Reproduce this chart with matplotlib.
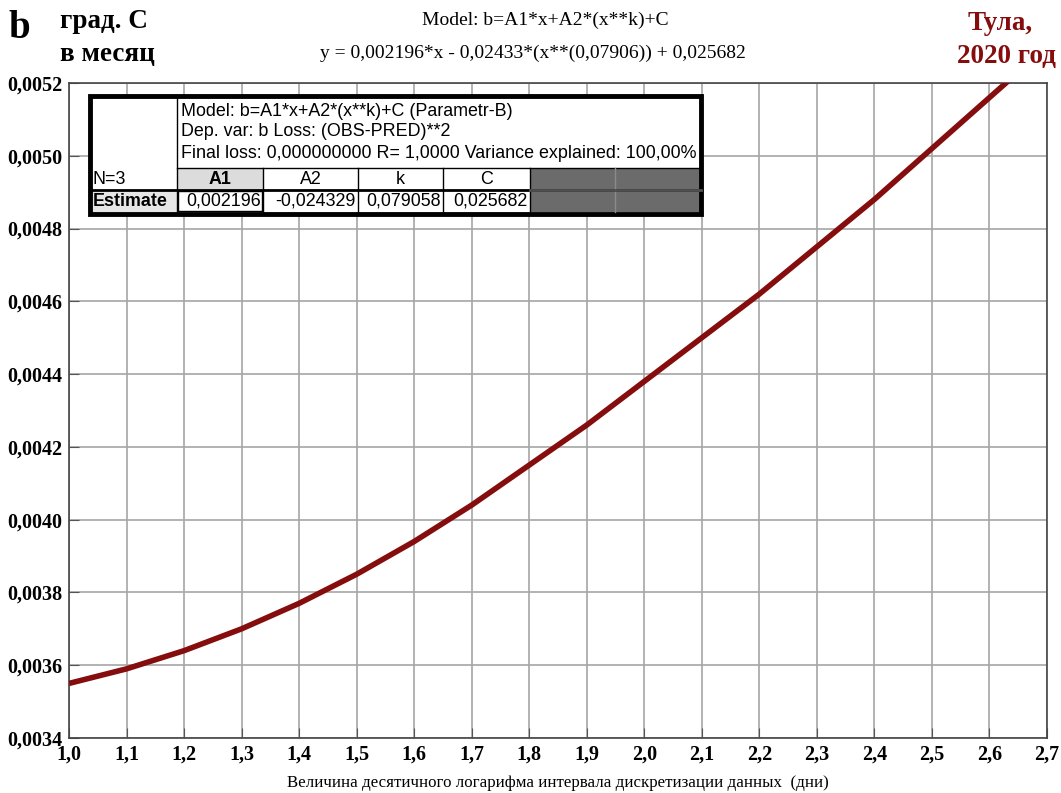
import numpy as np
import matplotlib
matplotlib.use("Agg")
import matplotlib.pyplot as plt
from matplotlib.patches import Rectangle
from matplotlib.ticker import MultipleLocator, FuncFormatter

# data
x_vals = [1.0, 1.1, 1.2, 1.3, 1.4, 1.5, 1.6, 1.7, 1.8, 1.9,
          2.0, 2.1, 2.2, 2.3, 2.4, 2.5, 2.6, 2.7]
b_vals = [0.00355, 0.00359, 0.00364, 0.00370, 0.00377, 0.00385,
          0.00394, 0.00404, 0.00415, 0.00426, 0.00438, 0.00450,
          0.00462, 0.00475, 0.00488, 0.00502, 0.00516, 0.00530]

param_names = ["A1", "A2", "k", "C"]
param_estimates = ["0,002196", "-0,024329", "0,079058", "0,025682"]
table_lines = ["Model: b=A1*x+A2*(x**k)+C (Parametr-B)",
               "Dep. var: b Loss: (OBS-PRED)**2",
               "Final loss: 0,000000000 R= 1,0000 Variance explained: 100,00%"]

SERIF = ["Liberation Serif", "DejaVu Serif"]
SANS = ["Liberation Sans", "DejaVu Sans"]
RED = "#850d0d"

W, H = 1061, 793
fig = plt.figure(figsize=(W / 100, H / 100), dpi=100)

# main plot
ax = fig.add_axes([69 / W, 1 - 738 / H, (1047 - 69) / W, (738 - 83) / H])
ax.plot(x_vals, b_vals, color=RED, lw=4, solid_capstyle="butt", zorder=3)
ax.set_xlim(1.0, 2.7)
ax.set_ylim(0.0034, 0.0052)
ax.xaxis.set_major_locator(MultipleLocator(0.1))
ax.yaxis.set_major_locator(MultipleLocator(0.0002))
ax.xaxis.set_major_formatter(FuncFormatter(lambda v, p: f"{v:.1f}".replace(".", ",")))
ax.yaxis.set_major_formatter(FuncFormatter(lambda v, p: f"{v:.4f}".replace(".", ",")))
ax.grid(True, color="#a6a6a6", lw=1.2)
ax.set_axisbelow(True)
for s in ax.spines.values():
    s.set_color("#444444")
    s.set_linewidth(1.2)
ax.tick_params(direction="in", length=7, color="#555555", pad=5)
for lab in ax.get_xticklabels() + ax.get_yticklabels():
    lab.set_family(SERIF)
    lab.set_fontweight("bold")
    lab.set_fontsize(14.5)
ax.set_xlabel("Величина десятичного логарифма интервала дискретизации данных  (дни)",
              family=SERIF, fontsize=12.2, labelpad=7)

# overlay in pixel coordinates for texts and the results table
ov = fig.add_axes([0, 0, 1, 1], zorder=5)
ov.set_xlim(0, W)
ov.set_ylim(H, 0)
ov.axis("off")

ov.text(8, 28, "b", family=SERIF, fontweight="bold", fontsize=28, va="center")
ov.text(60, 22, "град. С", family=SERIF, fontweight="bold", fontsize=19.5, va="center")
ov.text(60, 54, "в месяц", family=SERIF, fontweight="bold", fontsize=19.5, va="center")
ov.text(545, 20, "Model: b=A1*x+A2*(x**k)+C", family=SERIF, fontsize=14,
        ha="center", va="center")
ov.text(533, 53, "y = 0,002196*x - 0,02433*(x**(0,07906)) + 0,025682",
        family=SERIF, fontsize=14, ha="center", va="center")
ov.text(1000, 24, "Тула,", family=SERIF, fontweight="bold", fontsize=19.5,
        color=RED, ha="center", va="center")
ov.text(1056, 57, "2020 год", family=SERIF, fontweight="bold", fontsize=19.5,
        color=RED, ha="right", va="center")

# table
x0, x1, y0, y1 = 90, 701, 96, 214
col_edges = [177, 263, 358, 443, 530, 615, 701]
hdr_top, hdr_bot, est_bot = 168, 190, 212

ov.add_patch(Rectangle((x0, y0), x1 - x0, y1 - y0, facecolor="white", edgecolor="none"))
# shaded cells
ov.add_patch(Rectangle((col_edges[0], hdr_top), col_edges[1] - col_edges[0],
                       hdr_bot - hdr_top, facecolor="#dcdcdc", edgecolor="none"))
ov.add_patch(Rectangle((x0, hdr_bot), col_edges[0] - x0, est_bot - hdr_bot,
                       facecolor="#e6e6e6", edgecolor="none"))
ov.add_patch(Rectangle((col_edges[4], hdr_top), x1 - col_edges[4], est_bot - hdr_top,
                       facecolor="#6b6b6b", edgecolor="none"))
# grid lines inside table
ov.plot([col_edges[0], x1], [hdr_top, hdr_top], color="black", lw=1)
ov.plot([x0, x1], [hdr_bot, hdr_bot], color="black", lw=2)
ov.plot([col_edges[0], col_edges[0]], [y0, y1], color="black", lw=1)
for cx in col_edges[1:4]:
    ov.plot([cx, cx], [hdr_top, y1], color="black", lw=1)
ov.plot([col_edges[4], col_edges[4]], [hdr_top, y1], color="black", lw=1)
ov.plot([col_edges[5], col_edges[5]], [hdr_top, est_bot], color="#8a8a8a", lw=1)
ov.plot([col_edges[4], x1], [hdr_bot, hdr_bot], color="#505050", lw=2)
# selected cell
ov.add_patch(Rectangle((col_edges[0] + 1, hdr_bot + 1), col_edges[1] - col_edges[0] - 2,
                       est_bot - hdr_bot - 2, facecolor="none", edgecolor="black", lw=1))
ov.add_patch(Rectangle((x0, y0), x1 - x0, y1 - y0, facecolor="none",
                       edgecolor="black", lw=3.5))

for i, line in enumerate(table_lines):
    ov.text(181, 111 + i * 21, line, family=SANS, fontsize=12.9, va="center")
ov.text(93, 179, "N=3", family=SANS, fontsize=12.9, va="center")
ov.text(93, 201, "Estimate", family=SANS, fontsize=12.9, fontweight="bold", va="center")
for i, (name, est) in enumerate(zip(param_names, param_estimates)):
    cx = (col_edges[i] + col_edges[i + 1]) / 2
    ov.text(cx, 179, name, family=SANS, fontsize=12.9, ha="center", va="center",
            fontweight="bold" if i == 0 else "normal")
    ov.text(col_edges[i + 1] - 2, 201, est, family=SANS, fontsize=12.9,
            ha="right", va="center")

fig.savefig("out.png", dpi=100)
